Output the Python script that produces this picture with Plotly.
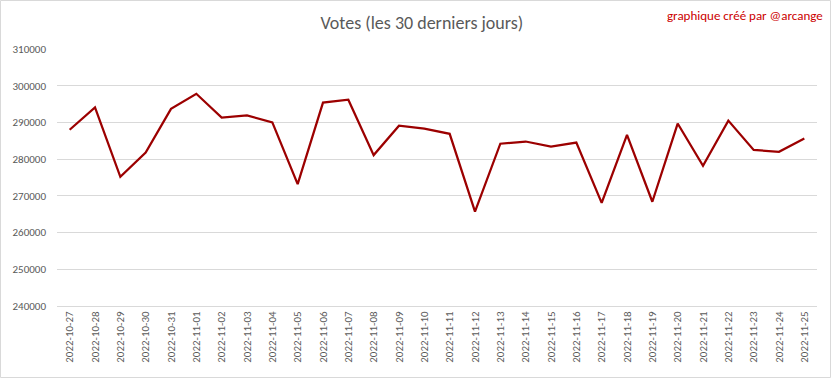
import plotly.graph_objects as go

dates = ["2022-10-27", "2022-10-28", "2022-10-29", "2022-10-30", "2022-10-31",
         "2022-11-01", "2022-11-02", "2022-11-03", "2022-11-04", "2022-11-05",
         "2022-11-06", "2022-11-07", "2022-11-08", "2022-11-09", "2022-11-10",
         "2022-11-11", "2022-11-12", "2022-11-13", "2022-11-14", "2022-11-15",
         "2022-11-16", "2022-11-17", "2022-11-18", "2022-11-19", "2022-11-20",
         "2022-11-21", "2022-11-22", "2022-11-23", "2022-11-24", "2022-11-25"]
votes = [288000, 294100, 275200, 281800, 293700,
         297800, 291300, 291900, 290000, 273200,
         295400, 296200, 281100, 289100, 288300,
         286900, 265700, 284200, 284800, 283400,
         284500, 268100, 286600, 268400, 289700,
         278200, 290500, 282500, 282000, 285600]
y_ticks = [240000, 250000, 260000, 270000, 280000, 290000, 300000, 310000]

title_text = "Votes (les 30 derniers jours)"
credit_text = "graphique créé par @arcange"

fig = go.Figure()
fig.add_trace(go.Scatter(
    x=dates, y=votes, mode="lines",
    line=dict(color="#9c0000", width=2.25),
    hoverinfo="x+y",
))

font_family = "Carlito, Calibri, 'Open Sans', sans-serif"

fig.update_layout(
    width=832, height=379,
    margin=dict(l=57, r=15, t=49, b=73),
    paper_bgcolor="white", plot_bgcolor="white",
    showlegend=False,
    font=dict(family=font_family, color="#595959", size=11),
    title=dict(text=title_text, x=0.507, xanchor="center", y=0.94, yanchor="middle",
               font=dict(size=18, color="#595959", family=font_family)),
    xaxis=dict(
        type="category", range=[-0.5, len(dates) - 0.5],
        tickangle=-90, showgrid=False, zeroline=False,
        showline=True, linecolor="#d9d9d9", linewidth=1,
        ticks="", tickfont=dict(size=11, color="#595959"),
    ),
    yaxis=dict(
        range=[240000, 310000], tickvals=y_ticks,
        ticktext=[str(v) for v in y_ticks],
        showgrid=True, gridcolor="#d9d9d9", gridwidth=1,
        zeroline=False, showline=False, ticks="",
        ticklabelstandoff=10,
        tickfont=dict(size=11, color="#595959"),
    ),
    shapes=[dict(type="rect", xref="paper", yref="paper",
                 x0=-56.5/760, x1=1 + 13.5/760, y0=-71.5/257, y1=1 + 48.5/257,
                 line=dict(color="#d9d9d9", width=1), fillcolor="rgba(0,0,0,0)")],
    annotations=[dict(text=credit_text, xref="paper", yref="paper",
                      x=1 + 8/760, y=1 + 34/257, xanchor="right", yanchor="middle",
                      showarrow=False,
                      font=dict(size=13, color="#cc0000", family=font_family))],
)

fig.write_html("out.html", config={"displayModeBar": False},
               post_script="document.body.style.margin='0';")
